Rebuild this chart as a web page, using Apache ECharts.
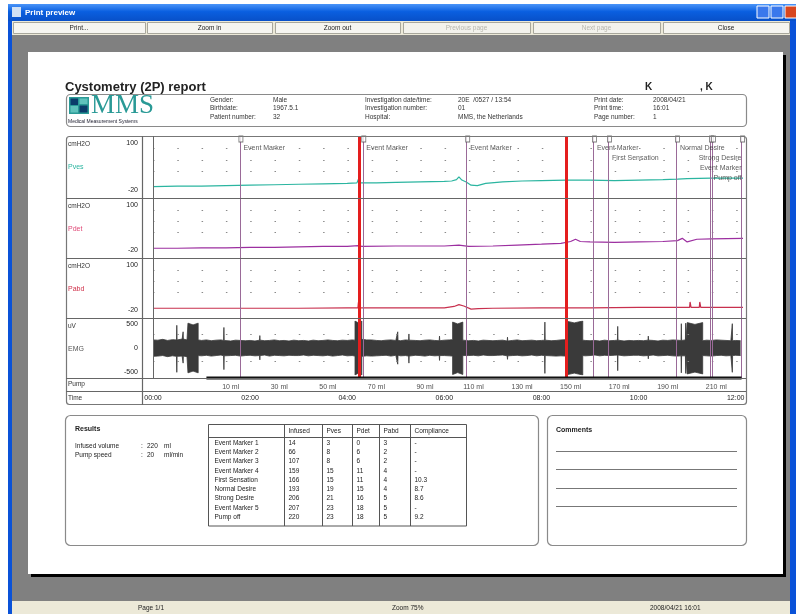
<!DOCTYPE html>
<html><head><meta charset="utf-8">
<script src="https://cdn.jsdelivr.net/npm/echarts@6/dist/echarts.min.js"></script>
<style>html,body{margin:0;padding:0;background:#fff}#c{width:796px;height:614px}</style>
</head><body><div id="c"></div>
<script>
// ---------------- data ----------------
const timeTicks = ['00:00','02:00','04:00','06:00','08:00','10:00','12:00']; // every 2 min
const pvesData = [[0,-2],[0.5,-1],[1,-1],[1.5,0],[2,1],[2.5,2],[3,3],[3.5,4],[4,5],[4.2,6],[4.23,14],[4.27,6],[4.6,6],[5,7],[5.5,8],[6,9],[6.15,10],[6.25,13],[6.3,19],[6.36,12],[6.45,8],[6.55,1],[6.68,0],[6.85,5],[7.2,8],[7.6,10],[8,11],[8.5,12],[9,12],[9.5,11],[10,12],[10.5,13],[10.8,14],[11,15],[11.5,16],[12.15,16]];
const pdetData = [[0,-5],[0.5,-5],[1,-4],[1.5,-4],[2,-3],[2.5,-3],[3,-2],[3.5,-1],[4,-1],[4.23,1],[4.3,-1],[5,0],[5.5,0],[6,0],[6.3,2],[6.5,-1],[7,0],[7.5,2],[8,4],[8.4,6],[8.6,10],[8.7,15],[8.8,10],[9,9],[9.5,8],[10,9],[10.5,10],[10.8,12],[10.9,17],[11,9],[11.2,15],[11.5,16],[12.15,17]];
const pabdData = [[0,-5],[1,-5],[2,-5],[3,-5],[4,-4],[4.22,-4],[4.23,8],[4.25,-4],[5,-4],[6,-4],[6.2,-1],[6.3,3],[6.4,0],[6.55,-7],[6.7,-6],[7,-5],[8,-4],[9,-4],[10,-3],[11.05,-3],[11.06,9],[11.08,-3],[11.25,-3],[11.26,9],[11.28,-3],[12.15,-3]];
// EMG envelope, baseline every 0.1 min
const emgHiBase = [150,145,160,140,155,150,165,150,145,150, 140,150,135,145,150,140,130,145,140,135, 140,130,145,135,140,150,135,140,130,145, 135,140,130,145,135,140,150,140,135,145, 140,150,145,160,150,150,140,135,145,150, 140,135,150,145,140,135,145,150,140,135, 145,150,155,150,145,135,140,130,145,140, 135,140,145,130,140,150,135,140,145,135, 140,145,135,140,150,155,150,150,145,140, 135,140,130,145,135,140,145,130,140,135, 140,135,145,140,130,145,140,150,145,140, 150,145,140,135,145,140,150,145,140,135, 140,135];
const emgLoBase = [-155,-150,-140,-160,-145,-155,-150,-160,-150,-140, -145,-135,-150,-140,-130,-145,-140,-135,-150,-140, -135,-145,-140,-130,-150,-135,-140,-145,-135,-140, -140,-130,-145,-135,-140,-145,-135,-150,-140,-130, -145,-140,-150,-155,-145,-150,-145,-140,-135,-150, -135,-145,-140,-150,-135,-140,-150,-135,-145,-140, -140,-145,-150,-155,-140,-140,-135,-145,-130,-140, -140,-135,-130,-145,-140,-135,-145,-140,-130,-145, -135,-140,-145,-150,-145,-150,-155,-150,-140,-145, -140,-130,-145,-135,-140,-135,-130,-145,-140,-135, -135,-145,-140,-130,-145,-140,-135,-145,-150,-145, -145,-150,-135,-140,-145,-150,-140,-135,-145,-140, -135,-140];
const emgSpikes = [[0.49,420,-450],[0.62,300,-280],[1.46,380,-400],[2.2,230,-220],[5.04,300,-300],[5.27,260,-280],[5.9,220,-230],[7.3,200,-210],[8.07,480,-470],[9.57,400,-420],[10.2,220,-200],[10.88,450,-460],[10.97,460,-470],[11.93,450,-450]];
const emgBursts = [[0.72,0.93,460,-460],[4.16,4.30,500,-500],[6.17,6.38,480,-490],[8.50,8.85,500,-500],[11.00,11.32,470,-480]];
const eventNames = ['Event Marker','Event Marker','Event Marker','Event Marker','First Sensation','Normal Desire','Strong Desire','Event Marker','Pump off'];
const eventTimes = [1.79,4.32,6.46,9.07,9.38,10.78,11.48,11.52,12.12];
const eventLevels = [0,0,0,0,1,0,1,2,3];
const redMarkTimes = [4.24,8.52];
const pumpStart = 1.1, pumpEnd = 12.12, pumpRate = 20;
const pumpVolumes = [10,30,50,70,90,110,130,150,170,190,210];
const gridDotLevels = [30,55,80];
const tableHead = ['','Infused','Pves','Pdet','Pabd','Compliance'];
const tableRows = [['Event Marker 1','14','3','0','3','-'],['Event Marker 2','66','8','6','2','-'],['Event Marker 3','107','8','6','2','-'],['Event Marker 4','159','15','11','4','-'],['First Sensation','166','15','11','4','10.3'],['Normal Desire','193','19','15','4','8.7'],['Strong Desire','206','21','16','5','8.6'],['Event Marker 5','207','23','18','5','-'],['Pump off','220','23','18','5','9.2']];
const infusedVolume = '220', pumpSpeed = '20';

// ---------------- helpers ----------------
const FONT = '"Liberation Sans", Arial, sans-serif';
const XMAX = 12.15;
const G = [];
function rect(x,y,w,h,fill,stroke,lw,r,z){G.push({type:'rect',silent:true,z:z||0,shape:{x:x,y:y,width:w,height:h,r:r||0},style:{fill:fill||'none',stroke:stroke||null,lineWidth:lw||1}});}
function ln(x1,y1,x2,y2,stroke,lw,z){G.push({type:'line',silent:true,z:z||60,shape:{x1:x1,y1:y1,x2:x2,y2:y2},style:{stroke:stroke,lineWidth:lw||1}});}
function tx(x,y,s,o){o=o||{};G.push({type:'text',silent:true,z:o.z||61,x:x,y:y,style:{text:s,fill:o.color||'#222',font:(o.weight||'normal')+' '+(o.size||7.5)+'px '+(o.family||FONT),textAlign:o.align||'left',textVerticalAlign:'middle',align:o.align||'left',verticalAlign:'middle'}});}

// window chrome
rect(0,0,796,614,'#ffffff');
G.push({type:'rect',silent:true,z:0,shape:{x:8,y:4,width:788,height:17},style:{fill:{type:'linear',x:0,y:0,x2:0,y2:1,colorStops:[{offset:0,color:'#4a94f8'},{offset:0.45,color:'#0a5fe0'},{offset:1,color:'#0850c8'}]}}});
rect(12,7,9,10,'#cfe0f5');
tx(25,12.5,'Print preview',{color:'#fff',weight:'bold',size:8});
rect(757,6,12,12,'#3a78ec','#fff');rect(771,6,12,12,'#3a78ec','#fff');rect(785,6,12,12,'#d8461f','#fff');
rect(8,21,4,593,'#0a52d8');rect(790,21,6,593,'#0a52d8');
rect(12,21,778,14,'#ece9d8');
[[13,145,'Print...',1],[147,272,'Zoom in',1],[275,400,'Zoom out',1],[403,530,'Previous page',0],[533,660,'Next page',0],[663,789,'Close',1]].forEach(b=>{
  rect(b[0]+0.5,22.5,b[1]-b[0],11,b[3]?'#f6f5f0':'#f3f2ec','#a8a79c');
  tx((b[0]+b[1])/2,28,b[2],{align:'center',size:6.5,color:b[3]?'#222':'#b8b7ad'});
});
rect(12,35,778,566,'#808080');
rect(31,55,755,522,'#000');
rect(28,52,755,522,'#fff');
rect(12,601,778,13,'#ece9d8');
tx(138,608,'Page 1/1',{size:6.5});tx(392,608,'Zoom 75%',{size:6.5});tx(650,608,'2008/04/21 16:01',{size:6.5});

// header
tx(65,87,'Cystometry (2P) report',{weight:'bold',size:13});
tx(645,87,'K',{weight:'bold',size:10});tx(700,87,', K',{weight:'bold',size:10});
rect(66.5,94.5,680,32,'none','#8a8a8a',1.2,4,60);
rect(69,97,20,17,'#2a9a96');rect(70.5,98.5,7.5,6.5,'#0b3c6a');rect(79.5,105.5,8,7,'#0b3c6a');rect(79.5,98.5,8,5.5,'#5fc2bc');rect(70.5,106,7.5,6.5,'#5fc2bc');
tx(91,106,'MMS',{size:27,family:'"Liberation Serif", serif',color:'#2a9a96'});
tx(68,121.5,'Medical Measurement Systems',{size:5,color:'#223'});
const hdr=[[210,['Gender:','Birthdate:','Patient number:']],[273,['Male','1967.5.1','32']],[365,['Investigation date/time:','Investigation number:','Hospital:']],[458,['20E  /0527 / 13:54','01','MMS, the Netherlands']],[594,['Print date:','Print time:','Page number:']],[653,['2008/04/21','16:01','1']]];
hdr.forEach(c=>c[1].forEach((s,i)=>tx(c[0],100+i*8.5,s,{size:6.5,color:'#333'})));

// chart frame
rect(66.5,136.5,680,268,'none','#777',1.2,3,60);
[198.5,258.5,318.5,378.5,391.5].forEach(y=>ln(66,y,746,y,'#666',1.2));
ln(142.5,136,142.5,405,'#666',1.2);ln(153.5,136,153.5,378,'#666',1);
const rowLab=[[136,'cmH2O','Pves','#2bb5a0'],[198,'cmH2O','Pdet','#e04a78'],[258,'cmH2O','Pabd','#d0304a'],[318,'uV','EMG','#555']];
rowLab.forEach(r=>{tx(68,r[0]+8,r[1],{size:6.5,color:'#333'});tx(68,r[0]+31,r[2],{size:7,color:r[3]});});
tx(68,384.5,'Pump',{size:6.5,color:'#333'});tx(68,398,'Time',{size:6.5,color:'#333'});
rect(747.5,137,35,60,'#fff',null,0,0,50);

// results
rect(65.5,415.5,473,130,'none','#8a8a8a',1.2,5,60);
tx(75,429,'Results',{weight:'bold',size:7});
tx(75,446,'Infused volume',{size:6.5});tx(141,446,':',{size:6.5});tx(147,446,infusedVolume,{size:6.5});tx(164,446,'ml',{size:6.5});
tx(75,455,'Pump speed',{size:6.5});tx(141,455,':',{size:6.5});tx(147,455,pumpSpeed,{size:6.5});tx(164,455,'ml/min',{size:6.5});
const colX=[208.5,284.5,322.5,352.5,379.5,410.5,466.5];
rect(208.5,424.5,258,101.5,'none','#555',1,0,60);
ln(208.5,437.5,466.5,437.5,'#555',1);
colX.slice(1,6).forEach(x=>ln(x,424.5,x,526,'#555',1));
tableHead.forEach((h,i)=>tx(colX[i]+4,431,h,{size:6.5}));
tableRows.forEach((r,j)=>r.forEach((s,i)=>tx(colX[i]+(i===0?6:4),443+j*9.25,s,{size:6.5})));
rect(547.5,415.5,199,130,'none','#8a8a8a',1.2,5,60);
tx(556,430,'Comments',{weight:'bold',size:7});
[451.5,469.5,488.5,506.5].forEach(y=>ln(556,y,737,y,'#777',1.2));

// ---------------- EMG envelope ----------------
function envelope(base,k){
  const step=0.1, pts=[];
  const baseAt=t=>base[Math.min(base.length-1,Math.round(t/step))];
  base.forEach((a,i)=>{const t=+(i*step).toFixed(2); if(!emgBursts.some(b=>t>=b[0]&&t<=b[1])) pts.push([t,a]);});
  emgBursts.forEach(b=>{pts.push([b[0],baseAt(b[0])],[b[0],b[1+k]],[(b[0]+b[1])/2,b[1+k]*0.93],[b[1],b[1+k]],[b[1],baseAt(b[1])]);});
  emgSpikes.forEach(s=>{pts.push([s[0]-0.006,baseAt(s[0])],[s[0],s[k]],[s[0]+0.006,baseAt(s[0])]);});
  return pts.map((p,i)=>[p[0],p[1],i]).sort((a,b)=>a[0]-b[0]||a[2]-b[2]).map(p=>[p[0],p[1]]);
}

// ---------------- chart ----------------
const grids=[{left:153,top:139,width:590,height:56},{left:153,top:201,width:590,height:54},{left:153,top:261,width:590,height:54},{left:153,top:321,width:590,height:54},{left:153,top:378,width:590,height:13},{left:153,top:136,width:590,height:242}];
const xAxes=grids.map((g,i)=>({type:'value',gridIndex:i,min:0,max:XMAX,interval:2,show:i===4,axisLine:{show:false},axisTick:{show:false},splitLine:{show:false},
  axisLabel:{margin:4,fontSize:7,color:'#222',fontFamily:FONT,showMaxLabel:false,formatter:v=>Number.isInteger(v/2)&&timeTicks[v/2]?timeTicks[v/2]:''}}));
const pLab={formatter:v=>v===100?'{t|100}':(v===-20?'{b|-20}':''),margin:15,rich:{t:{fontSize:7,color:'#222',padding:[9,0,0,0]},b:{fontSize:7,color:'#222',padding:[0,0,9,0]}}};
const yAxes=[0,1,2].map(i=>({type:'value',gridIndex:i,min:-20,max:100,interval:20,axisLine:{show:false},axisTick:{show:false},splitLine:{show:false},axisLabel:pLab}));
yAxes.push({type:'value',gridIndex:3,min:-500,max:500,interval:500,axisLine:{show:false},axisTick:{show:false},splitLine:{show:false},
  axisLabel:{margin:15,formatter:v=>v===500?'{t|500}':(v===-500?'{b|-500}':'{m|0}'),rich:{t:{fontSize:7,color:'#222',padding:[7,0,0,0]},b:{fontSize:7,color:'#222',padding:[0,0,6,0]},m:{fontSize:7,color:'#222'}}}});
yAxes.push({type:'value',gridIndex:4,min:0,max:1,show:false});
yAxes.push({type:'value',gridIndex:5,min:0,max:1,show:false});

const dotML=levels=>({silent:true,symbol:'none',label:{show:false},lineStyle:{color:'#8a8a8a',type:[1.5,22.8],width:1},data:levels.map(v=>({yAxis:v}))});
function pLine(i,data,color){return {type:'line',xAxisIndex:i,yAxisIndex:i,data:data,showSymbol:false,lineStyle:{color:color,width:1.2},z:3,markLine:dotML(gridDotLevels)};}
const series=[pLine(0,pvesData,'#2bb5a0'),pLine(1,pdetData,'#9c2fa0'),pLine(2,pabdData,'#c8304e')];
[['hi',emgHiBase,1],['lo',emgLoBase,2]].forEach(e=>series.push({type:'line',xAxisIndex:3,yAxisIndex:3,data:envelope(e[1],e[2]),showSymbol:false,
  lineStyle:{color:'#3a3a3a',width:0.8},areaStyle:{color:'#3a3a3a',opacity:1},z:3,markLine:e[0]==='hi'?dotML([-250,250]):undefined}));
series.push({type:'line',xAxisIndex:4,yAxisIndex:4,data:[[pumpStart,1],[pumpEnd,1]],showSymbol:false,clip:false,lineStyle:{color:'#111',width:3},z:5});
series.push({type:'scatter',xAxisIndex:4,yAxisIndex:4,symbolSize:1,itemStyle:{color:'transparent'},
  data:pumpVolumes.map(v=>({value:[pumpStart+v/pumpRate,0.3],name:v+' ml'})),
  label:{show:true,formatter:'{b}',position:'inside',fontSize:7,color:'#222',fontFamily:FONT}});
series.push({type:'line',xAxisIndex:5,yAxisIndex:5,data:[[0,0.5]],showSymbol:false,lineStyle:{opacity:0},z:6,
  markLine:{silent:true,symbol:'none',label:{show:false},lineStyle:{color:'#9a6a98',width:1,type:'solid'},data:eventTimes.map(t=>({xAxis:t}))}});
series.push({type:'line',xAxisIndex:5,yAxisIndex:5,data:[[0,0.5]],showSymbol:false,lineStyle:{opacity:0},z:7,
  markLine:{silent:true,symbol:'none',label:{show:false},lineStyle:{color:'#e41e1e',width:3,type:'solid'},data:redMarkTimes.map(t=>({xAxis:t}))}});
series.push({type:'scatter',xAxisIndex:5,yAxisIndex:5,clip:false,symbol:'rect',symbolSize:[4,6],symbolOffset:[1,3],z:8,
  itemStyle:{color:'#fff',borderColor:'#555',borderWidth:1},data:eventTimes.map(t=>[t,1])});
series.push({type:'scatter',xAxisIndex:0,yAxisIndex:0,symbolSize:1,itemStyle:{color:'transparent'},z:9,
  data:eventNames.map((n,i)=>{
    const t=eventTimes[i], y=80-21*eventLevels[i];
    const over=t+(n.length*4.0+4)/48.56>XMAX;
    return {value:[over?XMAX:t,y],name:n,label:{position:over?'left':'right',distance:over?1:3}};
  }),
  label:{show:true,formatter:'{b}',fontSize:7,color:'#333',fontFamily:FONT}});

const chart=echarts.init(document.getElementById('c'),null,{renderer:'canvas',width:796,height:614});
chart.setOption({animation:false,backgroundColor:'#fff',textStyle:{fontFamily:FONT},grid:grids,xAxis:xAxes,yAxis:yAxes,series:series,graphic:{elements:G}});
</script></body></html>
